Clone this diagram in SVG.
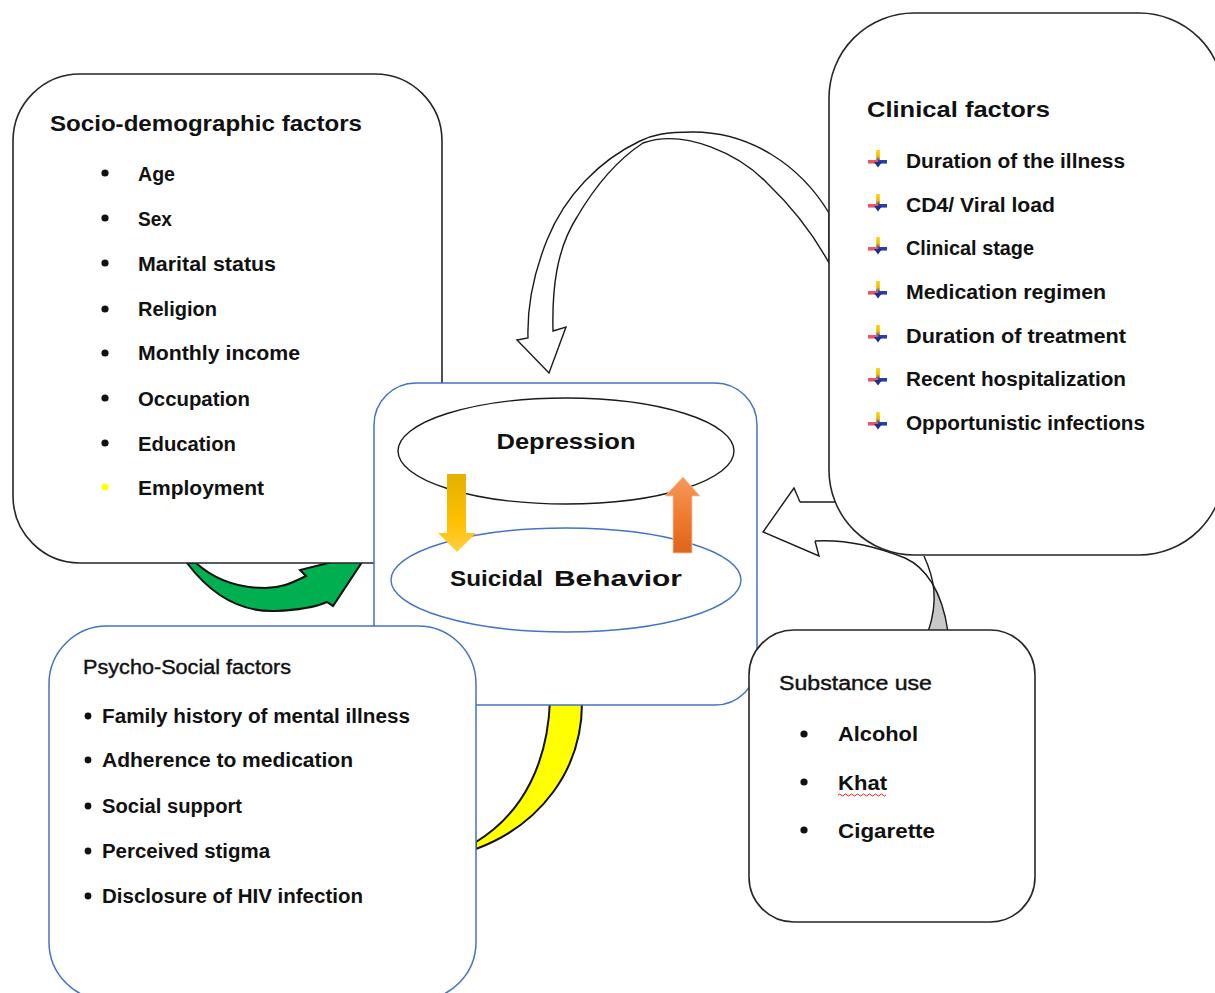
<svg xmlns="http://www.w3.org/2000/svg" xmlns:xlink="http://www.w3.org/1999/xlink" width="1215" height="993" viewBox="0 0 1215 993">
  <style>
    .box { fill: #ffffff; stroke: #262626; stroke-width: 1.6; }
    .bluebox { fill: #ffffff; stroke: #4472c4; stroke-width: 1.5; }
    .title { font-family: "Liberation Sans", Arial, sans-serif; font-weight: bold; font-size: 22px; fill: #111; }
    .item { font-family: "Liberation Sans", Arial, sans-serif; font-weight: bold; font-size: 20px; fill: #111; }
    .plain { font-family: "Liberation Sans", Arial, sans-serif; font-size: 20px; fill: #111; stroke: #111; stroke-width: 0.4; }
    .dot { fill: #111; }
    .outline { fill: #ffffff; stroke: #1a1a1a; stroke-width: 1.4; stroke-linejoin: miter; }
    .line { fill: none; stroke: #1a1a1a; stroke-width: 1.4; }
  </style>
  <defs>
    <linearGradient id="gYellow" x1="0" y1="0" x2="0" y2="1">
      <stop offset="0" stop-color="#e3b100"/>
      <stop offset="0.6" stop-color="#ffc000"/>
      <stop offset="1" stop-color="#ffcf40"/>
    </linearGradient>
    <linearGradient id="gOrange" x1="0" y1="0" x2="0" y2="1">
      <stop offset="0" stop-color="#f59a5c"/>
      <stop offset="0.5" stop-color="#f07c30"/>
      <stop offset="1" stop-color="#dd6418"/>
    </linearGradient>
    <linearGradient id="gStem" x1="0" y1="0" x2="0" y2="1">
      <stop offset="0" stop-color="#ffd800"/>
      <stop offset="0.55" stop-color="#f2b400"/>
      <stop offset="1" stop-color="#1e2f8c"/>
    </linearGradient>
    <!-- bullet glyph used in the clinical factors list -->
    <g id="tick">
      <rect x="-1.8" y="-10" width="3.6" height="12" fill="url(#gStem)"/>
      <rect x="-10" y="0" width="10" height="3.6" fill="#e8566a"/>
      <rect x="0" y="0" width="9" height="3.6" fill="#2a3fa8"/>
      <path d="M-4,2 L4,2 L0,7.5 Z" fill="#1e2f8c"/>
    </g>
  </defs>

  <g id="connectors">
    <!-- curved arrow: clinical factors to depression -->
    <path class="outline" d="M829,213 C800,165 750,132 693,132 C665,132 652,135 640,141 C600,160 565,195 547,240 C533,275 527,305 528,338 L517,340 L549,373 L566,327 L553,331 C552,290 556,250 577,217 C597,183 620,158 643,143 C685,128 740,155 767,183 C790,205 812,232 829,263 Z"/>

    <!-- green arrow: socio-demographic factors to centre -->
    <path d="M187,563 C215,600 245,612 275,611 C300,610 318,606 327,602 L333,606 L368,553 L300,570 L306,576 C290,584 280,588 265,588 C240,588 215,580 196,563 Z" fill="#00b050" stroke="#111" stroke-width="2" stroke-linejoin="miter"/>

    <!-- yellow arrow: psycho-social factors to centre -->
    <path d="M550,700 C548,760 525,812 476,842 L476,849 C540,825 583,770 582,700 Z" fill="#ffff00" stroke="#111" stroke-width="2"/>

    <!-- curved arrow: substance use to centre -->
    <path d="M763,532 L794,488 L800,502 L860,502 L924,556 L932,580 C920,566 900,555 866,546 C850,541 830,540 815,541 L819,556 Z" fill="#ffffff"/>
    <path d="M932,580 C940,595 946,610 948,632 L928,632 C934,612 935,595 932,580 Z" fill="#c8c8c8"/>
    <path class="line" d="M800,502 L794,488 L763,532 L819,556 L815,541"/>
    <path class="line" d="M800,502 L835,502"/>
    <path class="line" d="M815,541 C850,539 880,548 905,558 C925,567 942,590 948,632"/>
    <path class="line" d="M924,556 C934,578 939,600 928,632"/>
  </g>

  <g id="socio-demographic">
    <rect class="box" x="13" y="74" width="429" height="489" rx="67" ry="67"/>
    <text class="title" x="50" y="131" textLength="312" lengthAdjust="spacingAndGlyphs">Socio-demographic factors</text>
    <g>
      <circle class="dot" cx="105" cy="173" r="3.6"/>
      <text class="item" x="138" y="181" font-size="21" textLength="37" lengthAdjust="spacingAndGlyphs">Age</text>
      <circle class="dot" cx="105" cy="218" r="3.6"/>
      <text class="item" x="138" y="226" font-size="21" textLength="34" lengthAdjust="spacingAndGlyphs">Sex</text>
      <circle class="dot" cx="105" cy="263" r="3.6"/>
      <text class="item" x="138" y="271" font-size="21" textLength="138" lengthAdjust="spacingAndGlyphs">Marital status</text>
      <circle class="dot" cx="105" cy="309" r="3.6"/>
      <text class="item" x="138" y="316" font-size="21" textLength="79" lengthAdjust="spacingAndGlyphs">Religion</text>
      <circle class="dot" cx="105" cy="353" r="3.6"/>
      <text class="item" x="138" y="360" font-size="21" textLength="162" lengthAdjust="spacingAndGlyphs">Monthly income</text>
      <circle class="dot" cx="105" cy="398" r="3.6"/>
      <text class="item" x="138" y="406" font-size="21" textLength="112" lengthAdjust="spacingAndGlyphs">Occupation</text>
      <circle class="dot" cx="105" cy="443" r="3.6"/>
      <text class="item" x="138" y="451" font-size="21" textLength="98" lengthAdjust="spacingAndGlyphs">Education</text>
      <circle cx="105" cy="487" r="3.6" fill="#ffff00"/>
      <text class="item" x="138" y="495" font-size="21" textLength="126" lengthAdjust="spacingAndGlyphs">Employment</text>
    </g>
  </g>

  <g id="outcome">
    <rect class="bluebox" x="374" y="383" width="383" height="322" rx="42" ry="42"/>
    <ellipse cx="566" cy="451" rx="168" ry="53" fill="#ffffff" stroke="#1a1a1a" stroke-width="1.4"/>
    <text class="title" x="566" y="449" font-size="24" text-anchor="middle" textLength="139" lengthAdjust="spacingAndGlyphs">Depression</text>
    <ellipse cx="566" cy="580" rx="175" ry="52" fill="#ffffff" stroke="#4472c4" stroke-width="1.4"/>
    <text class="title" x="450" y="586" font-size="23" textLength="93" lengthAdjust="spacingAndGlyphs">Suicidal</text>
    <text class="title" x="554" y="586" font-size="28" textLength="128" lengthAdjust="spacingAndGlyphs">Behavior</text>
    <!-- two-way link between depression and suicidal behaviour -->
    <path d="M447,474 L466,474 L466,533 L476,533 L457,552 L438,533 L447,533 Z" fill="url(#gYellow)"/>
    <path d="M673,553 L692,553 L692,496 L700,496 L683,477 L665,496 L673,496 Z" fill="url(#gOrange)" stroke="#f6c7a8" stroke-width="0.8"/>
  </g>

  <g id="psycho-social">
    <rect class="bluebox" x="49" y="626" width="427" height="374" rx="58" ry="58"/>
    <text class="plain" x="83" y="674" textLength="208" lengthAdjust="spacingAndGlyphs">Psycho-Social factors</text>
    <circle class="dot" cx="88" cy="716" r="3.4"/>
    <text class="item" x="102" y="723" textLength="308" lengthAdjust="spacingAndGlyphs">Family history of mental illness</text>
    <circle class="dot" cx="88" cy="760" r="3.4"/>
    <text class="item" x="102" y="767" textLength="251" lengthAdjust="spacingAndGlyphs">Adherence to medication</text>
    <circle class="dot" cx="88" cy="806" r="3.4"/>
    <text class="item" x="102" y="813" textLength="140" lengthAdjust="spacingAndGlyphs">Social support</text>
    <circle class="dot" cx="88" cy="851" r="3.4"/>
    <text class="item" x="102" y="858" textLength="168" lengthAdjust="spacingAndGlyphs">Perceived stigma</text>
    <circle class="dot" cx="88" cy="896" r="3.4"/>
    <text class="item" x="102" y="903" textLength="261" lengthAdjust="spacingAndGlyphs">Disclosure of HIV infection</text>
  </g>

  <g id="clinical">
    <rect class="box" x="829" y="13" width="395" height="542" rx="85" ry="85"/>
    <text class="title" x="867" y="117" textLength="183" lengthAdjust="spacingAndGlyphs">Clinical factors</text>
    <use xlink:href="#tick" transform="translate(878,160)"/>
    <text class="item" x="906" y="168" textLength="219" lengthAdjust="spacingAndGlyphs">Duration of the illness</text>
    <use xlink:href="#tick" transform="translate(878,204)"/>
    <text class="item" x="906" y="212" textLength="149" lengthAdjust="spacingAndGlyphs">CD4/ Viral load</text>
    <use xlink:href="#tick" transform="translate(878,247)"/>
    <text class="item" x="906" y="255" textLength="128" lengthAdjust="spacingAndGlyphs">Clinical stage</text>
    <use xlink:href="#tick" transform="translate(878,291)"/>
    <text class="item" x="906" y="299" textLength="200" lengthAdjust="spacingAndGlyphs">Medication regimen</text>
    <use xlink:href="#tick" transform="translate(878,335)"/>
    <text class="item" x="906" y="343" textLength="220" lengthAdjust="spacingAndGlyphs">Duration of treatment</text>
    <use xlink:href="#tick" transform="translate(878,378)"/>
    <text class="item" x="906" y="386" textLength="220" lengthAdjust="spacingAndGlyphs">Recent hospitalization</text>
    <use xlink:href="#tick" transform="translate(878,422)"/>
    <text class="item" x="906" y="430" textLength="239" lengthAdjust="spacingAndGlyphs">Opportunistic infections</text>
  </g>

  <g id="substance-use">
    <rect class="box" x="749" y="630" width="286" height="292" rx="45" ry="45"/>
    <text class="plain" x="779" y="690" textLength="153" lengthAdjust="spacingAndGlyphs">Substance use</text>
    <circle class="dot" cx="804" cy="734" r="3.6"/>
    <text class="item" x="838" y="741" textLength="80" lengthAdjust="spacingAndGlyphs">Alcohol</text>
    <circle class="dot" cx="804" cy="782" r="3.6"/>
    <text class="item" x="838" y="790" textLength="49" lengthAdjust="spacingAndGlyphs">Khat</text>
    <path d="M838,795 q1.5,-2 3,0 t3,0 t3,0 t3,0 t3,0 t3,0 t3,0 t3,0 t3,0 t3,0 t3,0 t3,0 t3,0 t3,0 t3,0 t3,0" fill="none" stroke="#e02020" stroke-width="1"/>
    <circle class="dot" cx="804" cy="830" r="3.6"/>
    <text class="item" x="838" y="838" textLength="97" lengthAdjust="spacingAndGlyphs">Cigarette</text>
  </g>
</svg>
